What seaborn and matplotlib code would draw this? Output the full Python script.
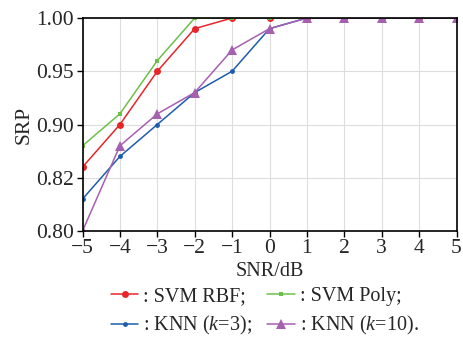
import numpy as np
import pandas as pd
import matplotlib
matplotlib.use('Agg')
import matplotlib.pyplot as plt
import seaborn as sns

# valores
snr = [-5, -4, -3, -2, -1, 0, 1, 2, 3, 4, 5]
svm_rbf = [0.86, 0.90, 0.95, 0.99, 1.00, 1.00, 1.00, 1.00, 1.00, 1.00, 1.00]
svm_poly = [0.88, 0.91, 0.96, 1.00, 1.00, 1.00, 1.00, 1.00, 1.00, 1.00, 1.00]
knn3 = [0.83, 0.87, 0.90, 0.93, 0.95, 0.99, 1.00, 1.00, 1.00, 1.00, 1.00]
knn10 = [0.80, 0.88, 0.91, 0.93, 0.97, 0.99, 1.00, 1.00, 1.00, 1.00, 1.00]

y_ticks = [0.80, 0.85, 0.90, 0.95, 1.00]
y_ticklabels = ['0.80', '0.82', '0.90', '0.95', '1.00']

sns.set_style('whitegrid')
plt.rcParams['font.family'] = ['Liberation Serif', 'DejaVu Serif']
plt.rcParams['mathtext.fontset'] = 'custom'
plt.rcParams['mathtext.it'] = 'Liberation Serif:italic'
plt.rcParams['mathtext.rm'] = 'Liberation Serif'

fig = plt.figure(figsize=(4.63, 3.37), dpi=100)
ax = fig.add_axes([82.5 / 463, 1 - 231 / 337, (456.5 - 82.5) / 463, (231 - 18) / 337])

series = [
    (svm_rbf, ': SVM RBF;', '#e8262a', 'o', 5),
    (svm_poly, ': SVM Poly;', '#6cc04a', 's', 3.2),
    (knn3, ': KNN ($k$=3);', '#1f5cad', 'o', 3.5),
    (knn10, ': KNN ($k$=10).', '#a660b0', '^', 7),
]
for vals, label, cor, mk, ms in series:
    sns.lineplot(x=snr, y=vals, ax=ax, color=cor, marker=mk, markersize=ms,
                 markeredgewidth=0, linewidth=1.1, label=label)

ax.set_xlim(-5, 5)
ax.set_ylim(0.80, 1.00)
ax.set_xticks(snr)
ax.set_xticklabels(['\u22125', '\u22124', '\u22123', '\u22122', '\u22121', '0', '1', '2', '3', '4', '5'])
ax.set_yticks(y_ticks)
ax.set_yticklabels(y_ticklabels)
ax.tick_params(labelsize=15.5, pad=2, length=4, width=1, color='black', direction='out',
               bottom=True, left=True)
ax.grid(color='#dddddd', linewidth=0.8)
for s in ax.spines.values():
    s.set_color('black')
    s.set_linewidth(1.2)
ax.set_xlabel('SNR/dB', fontsize=14.5, labelpad=3)
ax.set_ylabel('SRP', fontsize=15.5, labelpad=2)

# ordem por linha: RBF, Poly / KNN3, KNN10
handles, labels = ax.get_legend_handles_labels()
ordem = [0, 2, 1, 3]
ax.get_legend().remove()
fig.legend([handles[i] for i in ordem], [labels[i] for i in ordem], ncol=2,
           loc='upper left', bbox_to_anchor=(111 / 463, 1 - 287 / 337),
           frameon=False, fontsize=14.5, handlelength=1.35, handletextpad=0.25,
           columnspacing=0.75, labelspacing=0.4, borderpad=0, borderaxespad=0)

plt.savefig('out.png', dpi=100)
